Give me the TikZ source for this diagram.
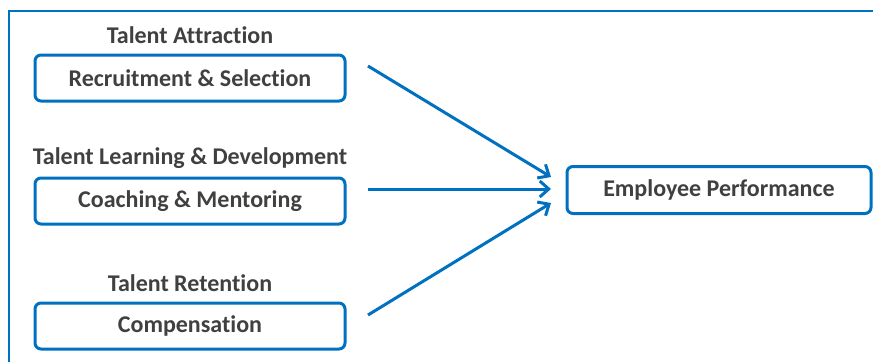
\documentclass[tikz,border=0pt]{standalone}
\usepackage{fontspec}
\setmainfont[Ligatures=NoCommon]{Carlito}
\usetikzlibrary{arrows.meta}
\definecolor{frameblue}{HTML}{0070C0}
\definecolor{textgray}{HTML}{404040}
\tikzset{
  box/.style={draw=frameblue, line width=3pt, rounded corners=6pt, fill=white,
    text=textgray, font=\bfseries\fontsize{24}{28}\selectfont, inner sep=0pt},
  heading/.style={text=textgray, font=\bfseries\fontsize{24}{28}\selectfont, inner sep=0pt},
  link/.style={draw=frameblue, line width=3pt, -{Straight Barb[length=9pt,width=16pt,line width=3pt]}}
}
\begin{document}
\begin{tikzpicture}[x=1pt,y=-1pt]
\useasboundingbox (0,0) rectangle (873,362);
% outer frame
\draw[frameblue, line width=1.5pt] (9,362) -- (9,11) -- (873,11);
% factor boxes with their headings
\node[heading] (h1) at (190,35) {Talent Attraction};
\node[box, minimum width=310pt, minimum height=46pt] (b1) at (190,78) {Recruitment \& Selection};
\node[heading] (h2) at (190,158) {Talent Learning \& Development};
\node[box, minimum width=310pt, minimum height=46pt] (b2) at (190,201) {Coaching \& Mentoring};
\node[heading] (h3) at (190,283) {Talent Retention};
\node[box, minimum width=310pt, minimum height=46pt] (b3) at (190,326) {Compensation};
% outcome box
\node[box, minimum width=304pt, minimum height=47pt] (out) at (719,190) {Employee Performance};
% arrow end points
\coordinate (s1) at (368,66);
\coordinate (s2) at (368,189);
\coordinate (s3) at (368,315);
\coordinate (e1) at (551,177);
\coordinate (e2) at (551,189);
\coordinate (e3) at (551,203);
\draw[link] (s1) -- (e1);
\draw[link] (s2) -- (e2);
\draw[link] (s3) -- (e3);
\end{tikzpicture}
\end{document}
